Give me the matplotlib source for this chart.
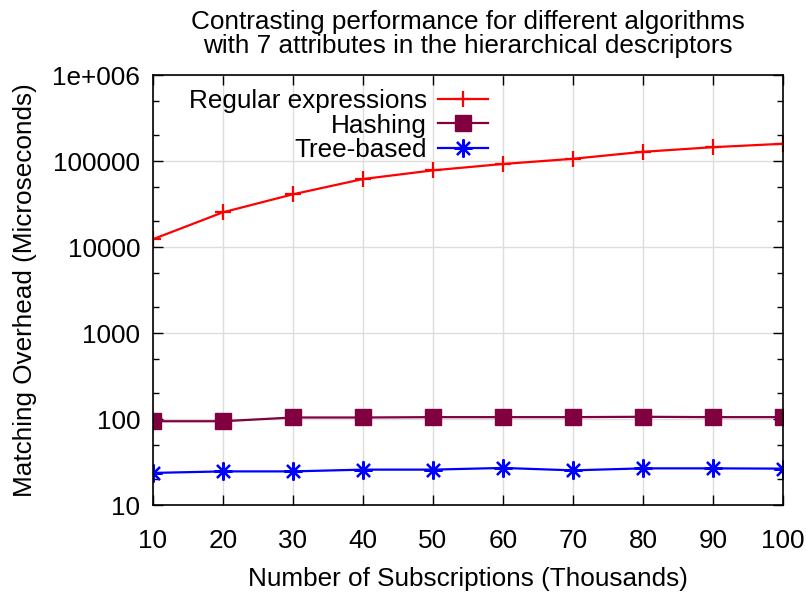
import numpy as np
import matplotlib.pyplot as plt
from matplotlib.ticker import FixedLocator, FixedFormatter

# ====== DATA ======
subscriptions = [10, 20, 30, 40, 50, 60, 70, 80, 90, 100]
regex_us = [12400, 25500, 41300, 62200, 78500, 93100, 107000, 129000, 146000, 160000]
hashing_us = [95, 95, 105, 105, 106, 106, 106, 107, 106, 106]
tree_us = [23.8, 24.8, 24.8, 26.0, 26.0, 27.2, 25.5, 26.9, 26.9, 26.7]

y_ticks = [10, 100, 1000, 10000, 100000, 1000000]
y_labels = ['10', '100', '1000', '10000', '100000', '1e+006']

# ====== PLOT ======
plt.rcParams['font.family'] = ['Liberation Sans', 'DejaVu Sans']
fs = 18.8
plt.rcParams['font.size'] = fs

fig = plt.figure(figsize=(8.06, 5.94), dpi=100)
ax = fig.add_axes([0.1895, 0.1493, 0.782, 0.7239])

ax.plot(subscriptions, regex_us, color='#ff0000', lw=1.6, marker='+', ms=12, mew=1.6,
        label='Regular expressions')
ax.plot(subscriptions, hashing_us, color='#800040', lw=1.6, marker='s', ms=12,
        label='Hashing')
ax.plot(subscriptions, tree_us, color='#0000ff', lw=1.6, marker=(8, 2, 0), ms=13, mew=1.6,
        label='Tree-based')

ax.set_yscale('log')
ax.set_xlim(10, 100)
ax.set_ylim(10, 1000000)
ax.set_xticks(subscriptions)
ax.yaxis.set_major_locator(FixedLocator(y_ticks))
ax.yaxis.set_major_formatter(FixedFormatter(y_labels))
minor = [m * 10.0 ** e for e in range(1, 6) for m in (2, 5)]
ax.yaxis.set_minor_locator(FixedLocator(minor))
ax.yaxis.set_minor_formatter(FixedFormatter([''] * len(minor)))

ax.grid(True, which='major', color='#dddddd', lw=1)
ax.set_axisbelow(True)
ax.tick_params(which='both', direction='in', top=True, right=True, width=1)
ax.tick_params(which='major', length=7)
ax.tick_params(which='minor', length=4)
ax.tick_params(axis='x', which='major', pad=17)
ax.tick_params(axis='y', which='major', pad=9)
for s in ax.spines.values():
    s.set_linewidth(1.2)

ax.set_xlabel('Number of Subscriptions (Thousands)', labelpad=10)
ax.set_ylabel('Matching Overhead (Microseconds)', labelpad=11)
ax.set_title('Contrasting performance for different algorithms\n'
             'with 7 attributes in the hierarchical descriptors',
             fontsize=fs, linespacing=1.0, pad=16)

ax.legend(loc='upper right', bbox_to_anchor=(0.532, 0.968), frameon=False, markerfirst=False,
          handlelength=1.9, handletextpad=0.45, labelspacing=0.02, borderaxespad=0,
          borderpad=0, fontsize=fs)

plt.savefig('out.png', dpi=100)
plt.close()
